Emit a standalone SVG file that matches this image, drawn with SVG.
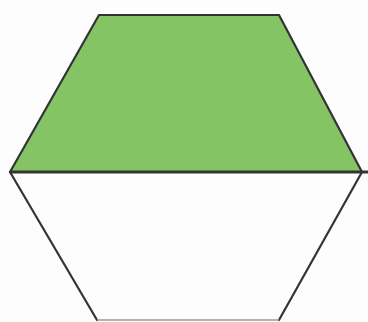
<svg xmlns="http://www.w3.org/2000/svg" width="368" height="322" viewBox="0 0 368 322">
<style>
.edge{fill:none;stroke:#333;stroke-width:2.2;stroke-linejoin:round;stroke-linecap:round}
</style>
<rect width="368" height="322" fill="#fdfdfd"/>
<g id="top">
<polygon points="99,15 279,15 362,172 10,172" fill="#84c464"/>
<polyline class="edge" points="10,172 99,15 279,15 362,172"/>
</g>
<g id="bottom">
<polygon points="10,172 362,172 279,320 97,320" fill="#fdfdfd"/>
<polyline class="edge" points="10,172 97,320"/>
<polyline class="edge" points="362,172 279,320"/>
<line x1="97" y1="320" x2="279" y2="320" stroke="#999" stroke-width="1.5"/>
</g>
<g id="connectors">
<line x1="10" y1="172" x2="368" y2="172" stroke="#333" stroke-width="3"/>
</g>
</svg>
